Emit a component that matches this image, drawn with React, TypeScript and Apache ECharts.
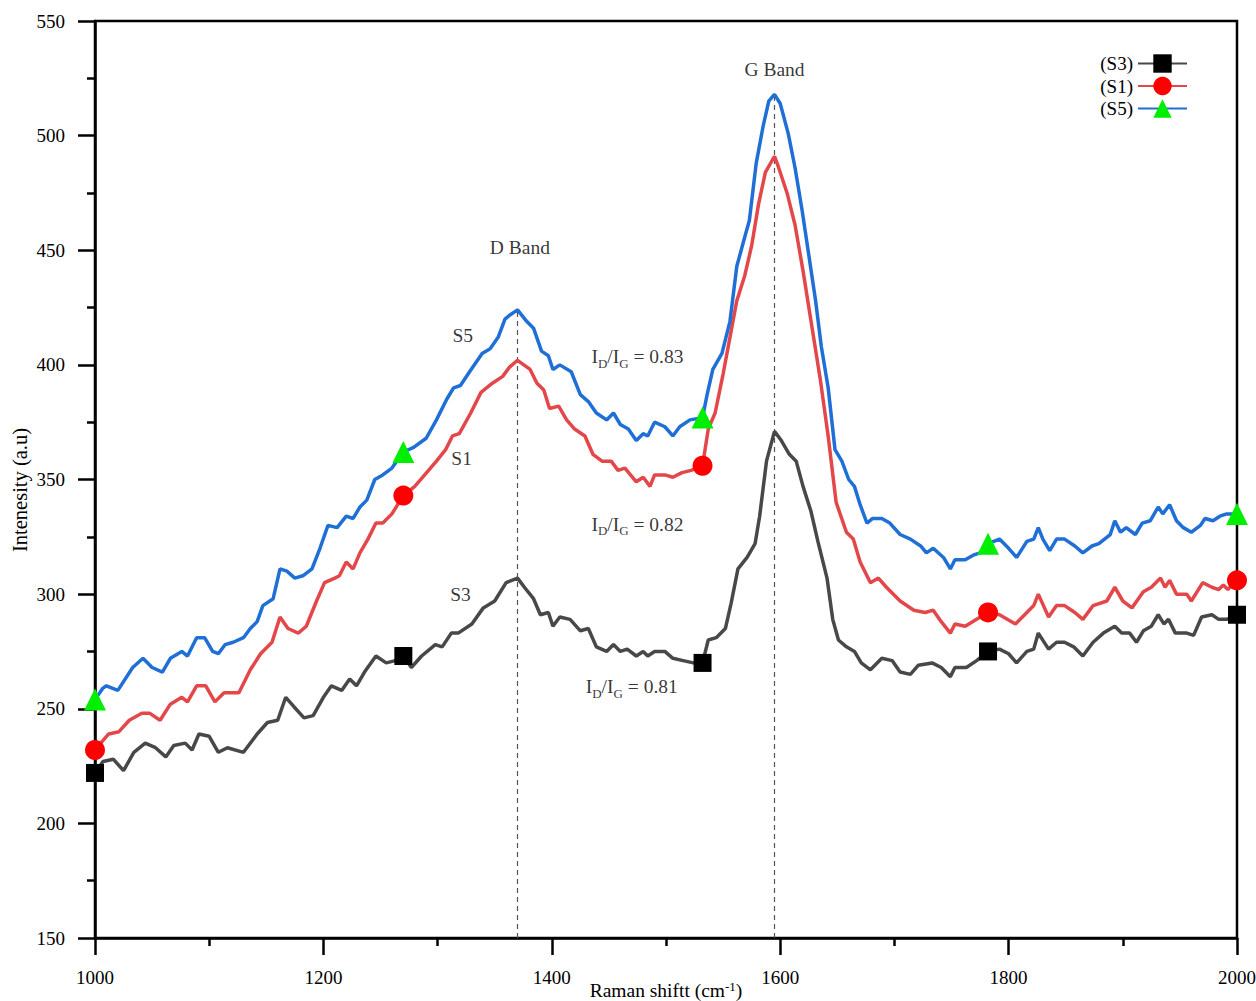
import React, { useEffect, useRef } from "react";
import * as echarts from "echarts";

// ---- data ----
const s3Data: [number, number][] = [
  [1000, 222], [1007, 227], [1016, 228], [1025, 223], [1034, 231], [1044, 235], [1053, 233], [1062, 229],
  [1069, 234], [1079, 235], [1085, 232], [1091, 239], [1100, 238], [1108, 231], [1116, 233], [1130, 231],
  [1142, 239], [1151, 244], [1160, 245], [1167, 255], [1174, 251], [1183, 246], [1191, 247], [1200, 255],
  [1207, 260], [1216, 258], [1223, 263], [1229, 260], [1236, 266], [1246, 273], [1255, 270], [1263, 271],
  [1270, 273], [1277, 268], [1286, 273], [1298, 278], [1304, 277], [1312, 283], [1318, 283], [1330, 287],
  [1340, 294], [1350, 297], [1360, 305], [1370, 307], [1376, 303], [1384, 298], [1390, 291], [1397, 292],
  [1401, 286], [1407, 290], [1416, 289], [1425, 284], [1432, 285], [1439, 277], [1448, 275], [1454, 278],
  [1460, 275], [1466, 276], [1474, 273], [1480, 275], [1484, 273], [1490, 275], [1499, 275], [1506, 272],
  [1515, 271], [1524, 270], [1532, 270], [1537, 280], [1544, 281], [1552, 285], [1557, 296], [1563, 311],
  [1571, 316], [1578, 322], [1582, 334], [1588, 358], [1595, 371], [1601, 367], [1608, 361], [1614, 358],
  [1620, 347], [1627, 336], [1633, 323], [1641, 307], [1646, 289], [1651, 280], [1658, 277], [1665, 275],
  [1671, 270], [1679, 267], [1689, 272], [1698, 271], [1705, 266], [1714, 265], [1721, 269], [1733, 270],
  [1741, 268], [1749, 264], [1753, 268], [1763, 268], [1772, 271], [1782, 275], [1792, 276], [1800, 274],
  [1807, 270], [1816, 275], [1822, 276], [1826, 283], [1835, 276], [1842, 279], [1849, 279], [1857, 277],
  [1865, 273], [1874, 279], [1883, 283], [1893, 286], [1899, 283], [1906, 283], [1912, 279], [1918, 284],
  [1925, 286], [1931, 291], [1936, 287], [1940, 289], [1946, 283], [1956, 283], [1962, 282], [1969, 290],
  [1978, 291], [1984, 289], [1991, 289], [2000, 291],
];

const s1Data: [number, number][] = [
  [1000, 232], [1005, 235], [1012, 239], [1021, 240], [1030, 245], [1041, 248], [1048, 248], [1057, 245],
  [1066, 252], [1076, 255], [1081, 253], [1089, 260], [1097, 260], [1105, 253], [1113, 257], [1126, 257],
  [1136, 267], [1145, 274], [1155, 279], [1162, 290], [1169, 285], [1178, 283], [1185, 286], [1194, 297],
  [1201, 305], [1210, 307], [1214, 308], [1220, 314], [1226, 311], [1232, 318], [1239, 324], [1246, 331],
  [1252, 331], [1260, 335], [1270, 343], [1280, 347], [1287, 351], [1299, 358], [1307, 363], [1313, 369],
  [1319, 370], [1329, 379], [1338, 388], [1348, 392], [1357, 395], [1363, 399], [1370, 402], [1381, 398],
  [1387, 392], [1393, 389], [1398, 381], [1406, 382], [1413, 376], [1420, 372], [1429, 369], [1436, 361],
  [1444, 358], [1452, 358], [1458, 354], [1464, 355], [1474, 349], [1480, 351], [1486, 347], [1490, 352],
  [1499, 352], [1506, 351], [1514, 353], [1522, 354], [1532, 356], [1537, 372], [1543, 379], [1550, 396],
  [1556, 412], [1562, 428], [1569, 439], [1575, 452], [1581, 470], [1587, 484], [1595, 491], [1598, 487],
  [1606, 475], [1613, 461], [1620, 441], [1627, 419], [1635, 394], [1642, 369], [1649, 340], [1658, 327],
  [1664, 324], [1670, 314], [1679, 305], [1686, 307], [1693, 303], [1705, 297], [1717, 293], [1727, 292],
  [1734, 293], [1741, 288], [1749, 283], [1753, 287], [1762, 286], [1772, 289], [1782, 292], [1792, 291],
  [1806, 287], [1816, 292], [1822, 295], [1826, 300], [1835, 290], [1842, 295], [1849, 295], [1858, 292],
  [1865, 289], [1874, 295], [1886, 297], [1893, 303], [1900, 297], [1908, 294], [1918, 301], [1925, 303],
  [1933, 307], [1937, 303], [1941, 306], [1947, 300], [1956, 300], [1960, 297], [1970, 305], [1978, 303],
  [1984, 302], [1988, 304], [1992, 302], [2000, 306],
];

const s5Data: [number, number][] = [
  [1000, 254], [1007, 259], [1010, 260], [1020, 258], [1033, 268], [1042, 272], [1050, 268], [1059, 266],
  [1066, 272], [1076, 275], [1081, 273], [1089, 281], [1096, 281], [1103, 275], [1108, 274], [1114, 278],
  [1121, 279], [1130, 281], [1136, 285], [1142, 288], [1147, 295], [1156, 298], [1162, 311], [1168, 310],
  [1175, 307], [1182, 308], [1190, 311], [1197, 320], [1204, 330], [1212, 329], [1220, 334], [1226, 333],
  [1232, 338], [1238, 341], [1245, 350], [1252, 352], [1260, 355], [1270, 362], [1279, 364], [1290, 368],
  [1299, 376], [1308, 385], [1314, 390], [1320, 391], [1328, 397], [1339, 405], [1346, 407], [1353, 412],
  [1359, 420], [1364, 422], [1370, 424], [1378, 419], [1384, 416], [1391, 406], [1397, 404], [1401, 398],
  [1407, 400], [1417, 397], [1425, 387], [1432, 384], [1439, 379], [1448, 376], [1454, 379], [1460, 374],
  [1467, 372], [1474, 367], [1480, 370], [1484, 369], [1490, 375], [1499, 373], [1506, 369], [1512, 373],
  [1521, 376], [1532, 377], [1536, 387], [1541, 398], [1549, 405], [1556, 419], [1562, 443], [1568, 454],
  [1573, 463], [1579, 488], [1585, 504], [1590, 515], [1595, 518], [1600, 514], [1607, 501], [1613, 486],
  [1619, 468], [1625, 448], [1631, 428], [1636, 408], [1642, 390], [1648, 363], [1654, 358], [1660, 350],
  [1665, 347], [1670, 339], [1676, 331], [1681, 333], [1689, 333], [1696, 331], [1705, 326], [1714, 324],
  [1723, 321], [1728, 318], [1734, 320], [1743, 316], [1749, 311], [1753, 315], [1762, 315], [1769, 317],
  [1775, 318], [1782, 322], [1792, 324], [1800, 320], [1807, 316], [1816, 323], [1822, 324], [1826, 329],
  [1830, 324], [1836, 319], [1842, 324], [1849, 324], [1858, 321], [1865, 318], [1873, 321], [1879, 322],
  [1884, 324], [1889, 326], [1893, 332], [1898, 327], [1903, 329], [1911, 326], [1917, 331], [1924, 332],
  [1931, 338], [1935, 335], [1941, 339], [1947, 332], [1953, 329], [1960, 327], [1968, 330], [1972, 333],
  [1979, 332], [1985, 334], [1991, 335], [2000, 335],
];

const markerX = [1000, 1270, 1532, 1782, 2000];
const seriesNames = ["(S3)", "(S1)", "(S5)"];
const seriesData = [s3Data, s1Data, s5Data];
const lineColors = ["#484848", "#e4474a", "#1f6fd6"];
const markerColors = ["#000000", "#ff0000", "#00ee00"];
const markerSymbols = ["rect", "circle", "triangle"];
const markerSizes = [18, 20, 22];

const xTicks = { min: 1000, max: 2000, interval: 200 };
const yTicks = { min: 150, max: 550, interval: 50 };

const textNotes = [
  { text: "D Band", x: 1372, y: 451 },
  { text: "G Band", x: 1595, y: 529 },
  { text: "S5", x: 1322, y: 413 },
  { text: "S1", x: 1321, y: 359 },
  { text: "S3", x: 1320, y: 300 },
];
const ratioNotes = [
  { ratio: "0.83", x: 1475, y: 403.5 },
  { ratio: "0.82", x: 1475, y: 330.5 },
  { ratio: "0.81", x: 1470, y: 259.5 },
];

const FONT = "'Liberation Serif', 'Times New Roman', serif";

export default function App() {
  const ref = useRef<HTMLDivElement>(null);

  useEffect(() => {
    document.body.style.margin = "0";
    if (!ref.current) return;
    const chart = echarts.init(ref.current, undefined, { renderer: "svg" });

    const dPeak = s5Data.filter((d) => d[0] < 1450).reduce((a, b) => (b[1] > a[1] ? b : a));
    const gPeak = s5Data.reduce((a, b) => (b[1] > a[1] ? b : a));

    const lineSeries = seriesData.map((data, i) => ({
      type: "line",
      name: seriesNames[i],
      z: 2 + i,
      data: data.map(([x, y]) =>
        markerX.includes(x) ? { value: [x, y] } : { value: [x, y], symbol: "none" }
      ),
      symbol: markerSymbols[i],
      symbolSize: markerSizes[i],
      showSymbol: true,
      clip: true,
      lineStyle: { color: lineColors[i], width: 3.5 },
      itemStyle: { color: markerColors[i] },
      emphasis: { disabled: true },
      silent: true,
      markLine:
        i === 2
          ? {
              silent: true,
              symbol: "none",
              label: { show: false },
              lineStyle: { type: [5, 4], color: "#555", width: 1.2 },
              z: 1,
              data: [
                [{ coord: [dPeak[0], yTicks.min] }, { coord: [dPeak[0], dPeak[1]] }],
                [{ coord: [gPeak[0], yTicks.min] }, { coord: [gPeak[0], gPeak[1]] }],
              ],
            }
          : undefined,
    }));

    const noteSeries = {
      type: "scatter",
      name: "notes",
      z: 10,
      silent: true,
      symbolSize: 1,
      itemStyle: { color: "rgba(0,0,0,0)" },
      data: [
        ...textNotes.map((n) => ({
          value: [n.x, n.y],
          label: { formatter: `{m|${n.text}}` },
        })),
        ...ratioNotes.map((n) => ({
          value: [n.x, n.y],
          label: { formatter: `{m|I}{s|D}{m|/I}{s|G}{m| = ${n.ratio}}` },
        })),
      ],
      label: {
        show: true,
        position: "inside",
        color: "#000",
        fontFamily: FONT,
        rich: {
          m: { fontFamily: FONT, fontSize: 19.5, color: "#000", lineHeight: 26 },
          s: { fontFamily: FONT, fontSize: 13, color: "#000", lineHeight: 13, verticalAlign: "bottom" },
        },
      },
    };

    const option = {
      animation: false,
      backgroundColor: "#ffffff",
      grid: {
        left: 95,
        right: 19,
        top: 21,
        bottom: 63,
        show: true,
        borderColor: "#000",
        borderWidth: 2.5,
        containLabel: false,
        outerBoundsMode: "none",
      },
      legend: {
        orient: "vertical",
        right: 63,
        top: 49,
        align: "right",
        itemWidth: 49,
        itemHeight: 23,
        itemGap: 3.5,
        selectedMode: false,
        data: seriesNames,
        textStyle: { fontFamily: FONT, fontSize: 19, color: "#000" },
      },
      xAxis: {
        type: "value",
        min: xTicks.min,
        max: xTicks.max,
        interval: xTicks.interval,
        name: "Raman shiftt (cm{sup|-1})",
        nameLocation: "middle",
        nameGap: 42,
        nameMoveOverlap: false,
        nameTextStyle: {
          fontFamily: FONT,
          fontSize: 19.5,
          color: "#000",
          rich: {
            sup: { fontFamily: FONT, fontSize: 13, color: "#000", verticalAlign: "top", lineHeight: 13 },
          },
        },
        axisLine: { show: true, lineStyle: { color: "#000", width: 2.5 } },
        axisTick: { show: true, inside: false, length: 17, lineStyle: { color: "#000", width: 2.5 } },
        minorTick: { show: true, splitNumber: 2, length: 8, lineStyle: { color: "#000", width: 2.5 } },
        axisLabel: {
          fontFamily: FONT,
          fontSize: 19,
          color: "#000",
          margin: 30,
          formatter: (v: number) => String(v),
        },
        splitLine: { show: false },
        minorSplitLine: { show: false },
      },
      yAxis: {
        type: "value",
        min: yTicks.min,
        max: yTicks.max,
        interval: yTicks.interval,
        axisLine: { show: true, lineStyle: { color: "#000", width: 2.5 } },
        axisTick: { show: true, inside: false, length: 17, lineStyle: { color: "#000", width: 2.5 } },
        minorTick: { show: true, splitNumber: 2, length: 8, lineStyle: { color: "#000", width: 2.5 } },
        axisLabel: {
          fontFamily: FONT,
          fontSize: 19,
          color: "#000",
          margin: 30,
          formatter: (v: number) => String(v),
        },
        splitLine: { show: false },
        minorSplitLine: { show: false },
      },
      graphic: [
        {
          type: "text",
          x: 20,
          y: 490,
          rotation: Math.PI / 2,
          style: {
            text: "Intenesity (a.u)",
            fontFamily: FONT,
            fontSize: 20.5,
            fill: "#000",
            align: "center",
            verticalAlign: "middle",
          },
        },
      ],
      series: [...lineSeries, noteSeries],
    };

    chart.setOption(option as any);
    return () => chart.dispose();
  }, []);

  return <div ref={ref} style={{ width: 1256, height: 1001 }} />;
}
